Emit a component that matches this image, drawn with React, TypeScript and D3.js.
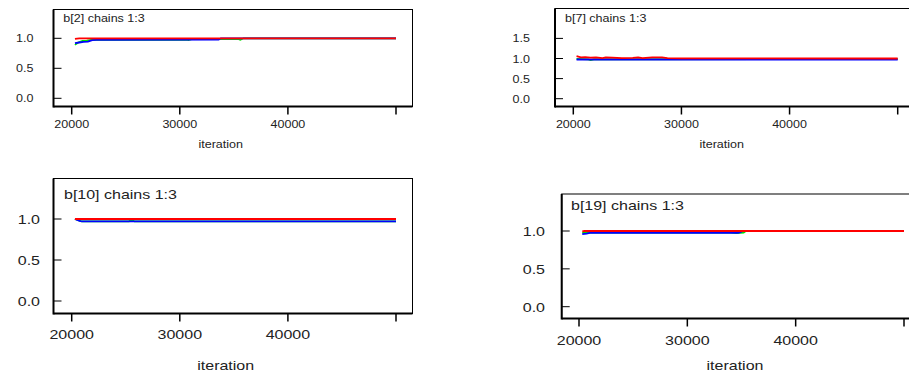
import React from 'react'
import * as d3 from 'd3'

// trace values: [iteration, value]
const b2Green = [[20300, 0.89], [20600, 0.93], [21000, 0.955], [21400, 0.96], [21800, 0.975], [30600, 0.98], [30800, 0.972], [31100, 0.985], [35400, 0.99], [35600, 0.975], [35900, 1.0], [50000, 1.0]]
const b2Blue = [[20300, 0.92], [20700, 0.93], [21100, 0.94], [21500, 0.945], [21900, 0.97], [22300, 0.975], [33600, 0.98], [33800, 1.0], [50000, 1.0]]
const b2Red = [[20300, 0.99], [20700, 1.0], [50000, 1.0]]

const b7Green = [[20300, 0.99], [21400, 0.98], [21600, 0.96], [21900, 0.98], [50000, 0.985]]
const b7Blue = [[20300, 0.975], [50000, 0.975]]
const b7Red = [[20300, 1.06], [20700, 1.03], [21100, 1.035], [21600, 1.02], [22100, 1.03], [22700, 1.01], [23000, 1.03], [23600, 1.02], [24500, 1.01], [25500, 1.015], [26000, 1.03], [26400, 1.01], [27300, 1.03], [28200, 1.03], [28700, 1.01], [30000, 1.005], [50000, 1.0]]

const b10Green = [[20300, 1.0], [20600, 0.985], [20900, 0.972], [25300, 0.972], [25500, 0.99], [25800, 0.972], [50000, 0.972]]
const b10Blue = [[20300, 1.0], [20500, 0.99], [20800, 0.975], [21000, 0.97], [50000, 0.97]]
const b10Red = [[20300, 1.0], [50000, 1.0]]

const b19Green = [[20300, 0.975], [20600, 0.98], [34000, 0.98], [34500, 0.972], [35200, 0.98], [35400, 1.0], [50000, 1.0]]
const b19Blue = [[20300, 0.96], [20700, 0.965], [21000, 0.975], [34700, 0.975], [34900, 0.985], [35100, 1.0], [50000, 1.0]]
const b19Red = [[20300, 0.995], [20500, 1.0], [50000, 1.0]]

const xTicks = [20000, 30000, 40000, 50000]
const xTickLabels = ['20000', '30000', '40000', '']
const yTicksShort = [0, 0.5, 1.0]
const yTicksTall = [0, 0.5, 1.0, 1.5]

const CHAIN_COLORS = ['#00e000', '#0000ff', '#ff0000']
const FONT = '"Liberation Sans", Arial, sans-serif'

type Layout = {
  left: number; right: number; top: number; bottom: number
  x20: number; x50: number; y0: number; y1: number
  labelRight: number; xLabelY: number; axisTitleX: number; axisTitleY: number
  titleX: number; titleY: number; fontSize: number; stretch: number; yLabelDy: number
}

function SText({ x, y, anchor, size, sx, children }: any) {
  return (
    <text transform={`translate(${x},${y}) scale(${sx},1)`} textAnchor={anchor} fontSize={size} fontFamily={FONT} fill="#222">
      {children}
    </text>
  )
}

function Panel({ title, chains, yTicks, L }: { title: string; chains: number[][][]; yTicks: number[]; L: Layout }) {
  const x = d3.scaleLinear().domain([20000, 50000]).range([L.x20, L.x50])
  const y = d3.scaleLinear().domain([0, 1]).range([L.y0, L.y1])
  const line = d3.line<number[]>().x((d) => x(d[0])).y((d) => y(d[1]))
  return (
    <g>
      <rect x={L.left} y={L.top} width={L.right - L.left} height={L.bottom - L.top} fill="white" stroke="#000" strokeWidth={1} />
      <line x1={L.left} x2={L.left} y1={L.top} y2={L.bottom + 1} stroke="#000" strokeWidth={2} />
      <line x1={L.left} x2={L.right} y1={L.bottom} y2={L.bottom} stroke="#000" strokeWidth={2} />
      {chains.map((c, i) => (
        <path key={i} d={line(c) || ''} fill="none" stroke={CHAIN_COLORS[i]} strokeWidth={1.8} />
      ))}
      {yTicks.map((t) => (
        <g key={t}>
          <line x1={L.left} x2={L.left + 8} y1={y(t)} y2={y(t)} stroke="#000" strokeWidth={1} />
          <SText x={L.labelRight} y={y(t) + L.yLabelDy} anchor="end" size={L.fontSize} sx={L.stretch}>{t.toFixed(1)}</SText>
        </g>
      ))}
      {xTicks.map((t, i) => (
        <g key={t}>
          <line x1={x(t)} x2={x(t)} y1={L.bottom} y2={L.bottom + 8} stroke="#000" strokeWidth={1.5} />
          <SText x={x(t)} y={L.xLabelY} anchor="middle" size={L.fontSize} sx={L.stretch}>{xTickLabels[i]}</SText>
        </g>
      ))}
      <SText x={L.axisTitleX} y={L.axisTitleY} anchor="middle" size={L.fontSize} sx={L.stretch}>iteration</SText>
      <SText x={L.titleX} y={L.titleY} anchor="start" size={L.fontSize} sx={L.stretch}>{title}</SText>
    </g>
  )
}

const layoutA: Layout = { left: 53.5, right: 412.5, top: 9.5, bottom: 106.5, x20: 71.7, x50: 396, y0: 98.3, y1: 38.3, labelRight: 33.5, xLabelY: 128, axisTitleX: 220.7, axisTitleY: 148, titleX: 63.3, titleY: 21.5, fontSize: 10.8, stretch: 1.16, yLabelDy: 4 }
const layoutB: Layout = { left: 555, right: 912, top: 8.5, bottom: 106.5, x20: 573.3, x50: 897.7, y0: 98.7, y1: 58.5, labelRight: 530, xLabelY: 128, axisTitleX: 721.7, axisTitleY: 148, titleX: 565, titleY: 21.5, fontSize: 10.8, stretch: 1.16, yLabelDy: 4 }
const layoutC: Layout = { left: 53.5, right: 412.5, top: 178.5, bottom: 313.5, x20: 71.7, x50: 396, y0: 301, y1: 219, labelRight: 40, xLabelY: 338.5, axisTitleX: 225.7, axisTitleY: 370, titleX: 64, titleY: 198.5, fontSize: 12.6, stretch: 1.27, yLabelDy: 5 }
const layoutD: Layout = { left: 561.7, right: 912, top: 194, bottom: 318.5, x20: 579, x50: 904, y0: 306.7, y1: 231, labelRight: 545, xLabelY: 345, axisTitleX: 735, axisTitleY: 369.5, titleX: 571, titleY: 210, fontSize: 12.6, stretch: 1.27, yLabelDy: 5 }

export default function App() {
  return (
    <svg width={909} height={372} style={{ position: 'absolute', left: 0, top: 0, background: 'white' }}>
      <rect width={909} height={372} fill="white" />
      <Panel title="b[2] chains 1:3" chains={[b2Green, b2Blue, b2Red]} yTicks={yTicksShort} L={layoutA} />
      <Panel title="b[7] chains 1:3" chains={[b7Green, b7Blue, b7Red]} yTicks={yTicksTall} L={layoutB} />
      <Panel title="b[10] chains 1:3" chains={[b10Green, b10Blue, b10Red]} yTicks={yTicksShort} L={layoutC} />
      <Panel title="b[19] chains 1:3" chains={[b19Green, b19Blue, b19Red]} yTicks={yTicksShort} L={layoutD} />
    </svg>
  )
}
